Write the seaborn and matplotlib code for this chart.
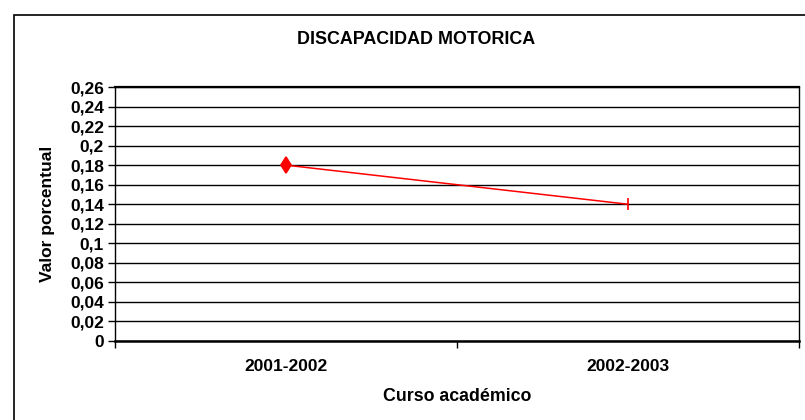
import matplotlib
matplotlib.use("Agg")
import matplotlib.pyplot as plt
import seaborn as sns
import pandas as pd
from matplotlib.patches import Rectangle

cursos = ["2001-2002", "2002-2003"]
valores = [0.18, 0.14]
marcadores = ["d", "|"]
yticks = [0, 0.02, 0.04, 0.06, 0.08, 0.1, 0.12, 0.14, 0.16, 0.18, 0.2, 0.22, 0.24, 0.26]

df = pd.DataFrame({"Curso": cursos, "Valor": valores})

sns.set_theme(style="white", rc={"text.color": "black", "axes.labelcolor": "black",
                                 "xtick.color": "black", "ytick.color": "black"})
plt.rcParams['font.family'] = ['Liberation Sans', 'DejaVu Sans']
plt.rcParams['font.weight'] = 'bold'

fig = plt.figure(figsize=(8.05, 4.2), dpi=100)
ax = fig.add_axes([115 / 805, 1 - 341 / 420, (799 - 115) / 805, (341 - 87) / 420])

# marco exterior del grafico (estilo Excel)
fig.patches.append(Rectangle((14 / 805, -0.05), 1.1, 1 - 15 / 420 + 0.05,
                             transform=fig.transFigure, fill=False,
                             edgecolor="black", linewidth=1.2))

df["x"] = range(len(df))
sns.lineplot(data=df, x="x", y="Valor", ax=ax, color="red", linewidth=1.1)
for i, row in df.iterrows():
    ax.plot(row["x"], row["Valor"], marker=marcadores[i], color="red",
            markersize=8 if marcadores[i] == "d" else 9, markeredgewidth=1.2)

ax.set_xlim(-0.5, len(cursos) - 0.5)
ax.set_ylim(0, 0.26)
ax.set_yticks(yticks)
ax.set_yticklabels([("%g" % v).replace(".", ",") for v in yticks], fontsize=12.5, fontweight="bold")
ax.set_xticks([i - 0.5 for i in range(len(cursos) + 1)], minor=False)
ax.set_xticklabels([])
ax.set_xticks(range(len(cursos)), minor=True)
ax.set_xticklabels(cursos, minor=True, fontsize=12.5, fontweight="bold")
ax.tick_params(axis="x", which="minor", length=0, pad=13)
ax.tick_params(axis="x", which="major", length=5, width=1, color="black", direction="out")
ax.tick_params(axis="y", length=5, width=1, color="black", direction="out", pad=3)
ax.tick_params(axis="both", bottom=True, left=True)

ax.grid(axis="y", color="black", linewidth=1)
ax.set_axisbelow(True)
for s in ax.spines.values():
    s.set_color("black")
    s.set_linewidth(1)
ax.spines["bottom"].set_linewidth(1.8)
ax.spines["top"].set_linewidth(1.6)

ax.set_xlabel("Curso académico", fontsize=12.8, fontweight="bold", labelpad=10)
ax.set_ylabel("Valor porcentual", fontsize=12.5, fontweight="bold", labelpad=11)
fig.text(416 / 805, 1 - 40 / 420, "DISCAPACIDAD MOTORICA",
         ha="center", va="center", fontsize=12.9, fontweight="bold")

fig.savefig("out.png", dpi=100)
